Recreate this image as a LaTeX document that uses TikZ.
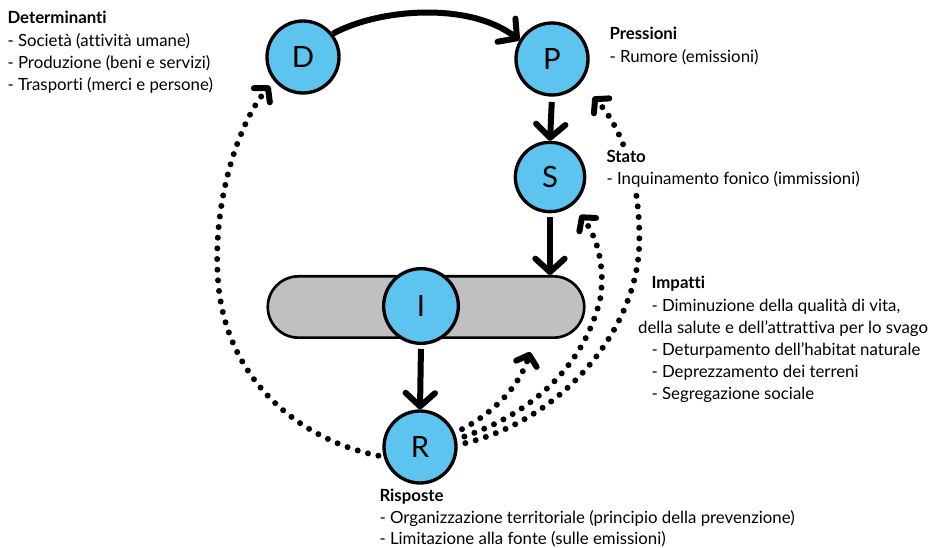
\documentclass[tikz,border=0pt]{standalone}
\usepackage{fontspec}
\setmainfont{Lato}[Ligatures=NoCommon]
\usetikzlibrary{arrows.meta,shapes.misc}

\definecolor{dpsirblue}{RGB}{92,196,238}
\definecolor{bargray}{RGB}{192,192,194}

\tikzset{every picture/.style={line width=0.75pt}}

\begin{document}
\begin{tikzpicture}[x=0.75pt,y=0.75pt,yscale=-1,xscale=1,
  letter/.style={circle,draw,line width=2.5pt,fill=dpsirblue,minimum size=54pt,inner sep=0pt,font=\fontsize{22}{24}\selectfont},
  flowarrow/.style={line width=4.5pt,-{Straight Barb[length=10pt,width=22pt,round]}},
  feedback/.style={line width=4.5pt,line cap=round,dash pattern=on 0pt off 8pt,-{Straight Barb[length=7pt,width=16pt,round]}},
  label/.style={anchor=north west,inner sep=0.75pt,align=left,fill=white,font=\fontsize{12.6}{16.6}\selectfont}]
\useasboundingbox (0,0) rectangle (934,548);

%Shape: Rounded Rectangle [id:bar]
\node [rounded rectangle,draw,line width=2pt,fill=bargray,minimum width=244pt,minimum height=46pt] (bar) at (426,307) {};

%Shape: Circle [id:D]
\node [letter] (D) at (303,57) {D};
%Shape: Circle [id:P]
\node [letter] (P) at (552,59) {P};
%Shape: Circle [id:S]
\node [letter,minimum size=52pt] (S) at (550,177) {S};
%Shape: Circle [id:I]
\node [letter,minimum size=56pt] (I) at (421,306) {I};
%Shape: Circle [id:R]
\node [letter] (R) at (420,447) {R};

%Curve Lines [id:DP]
\draw [flowarrow] (D.38) .. controls (380,8) and (470,2) .. (P.150) ;
%Straight Lines [id:PS]
\draw [flowarrow,shorten <=4pt] (P.south) -- (S.north) ;
%Straight Lines [id:SI]
\draw [flowarrow,shorten <=3pt] (S.south) -- (S.south |- bar.north) ;
%Straight Lines [id:IR]
\draw [flowarrow,shorten <=3pt] (I.south) -- (R.north) ;

%Curve Lines [id:RD]
\draw [feedback,shorten <=4pt] (R.195) .. controls (300,440) and (225,380) .. (218,280) .. controls (212,200) and (240,120) .. (270,86) ;
%Curve Lines [id:RI]
\draw [feedback,shorten <=6pt] (R.22) .. controls (495,412) and (520,385) .. (530,352) ;
%Curve Lines [id:RS]
\draw [feedback,shorten <=6pt] (R.12) .. controls (540,410) and (585,360) .. (600,300) .. controls (606,265) and (596,235) .. (580,215) ;
%Curve Lines [id:RP]
\draw [feedback,shorten <=6pt] (R.3) .. controls (565,418) and (634,330) .. (639,250) .. controls (642,190) and (625,130) .. (593,97) ;

% Text Node
\node [label] (determinanti) at (6,10) {\textbf{Determinanti}\\- Società (attività umane)\\- Produzione (beni e servizi)\\- Trasporti (merci e persone)};
% Text Node
\node [label] (pressioni) at (608,26) {\textbf{Pressioni}\\- Rumore (emissioni)};
% Text Node
\node [label] (stato) at (605,149) {\textbf{Stato}\\- Inquinamento fonico (immissioni)};
% Text Node
\node [label] (impatti) at (650,275) {\textbf{Impatti}\\- Diminuzione della qualità di vita,\\\hspace*{-10pt}della salute e dell'attrattiva per lo svago\\- Deturpamento dell'habitat naturale\\- Deprezzamento dei terreni\\- Segregazione sociale};
% Text Node
\node [label,font=\fontsize{12.6}{16.1}\selectfont] (risposte) at (378,488) {\textbf{Risposte}\\- Organizzazione territoriale (principio della prevenzione)\\- Limitazione alla fonte (sulle emissioni)};

\end{tikzpicture}
\end{document}
